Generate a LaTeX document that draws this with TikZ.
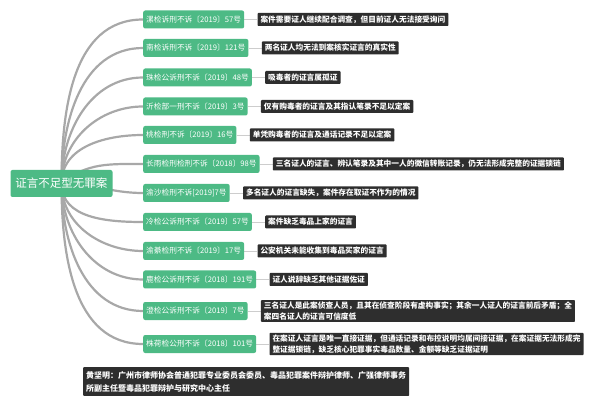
\documentclass[tikz,border=0pt]{standalone}
\usepackage{fontspec}
\setmainfont{Noto Sans CJK SC}
\usepackage{tikz}
\usetikzlibrary{positioning,backgrounds}
\definecolor{verde}{RGB}{77,186,133}
\definecolor{oscuro}{RGB}{46,46,46}
\definecolor{gris}{RGB}{168,168,168}
\definecolor{grisclaro}{RGB}{205,205,205}

\begin{document}
\begin{tikzpicture}[x=1pt, y=-1pt,
        raiz/.style={fill=verde, rounded corners=2pt, text=white, minimum height=27pt, inner xsep=5pt, font=\fontsize{11.5}{13}\selectfont},
        caso/.style={fill=verde, rounded corners=2pt, text=white, anchor=west, minimum height=18pt, inner xsep=3pt, font=\fontsize{7.7}{9}\selectfont},
        nota/.style={fill=oscuro, rounded corners=0.8pt, text=white, align=left, minimum height=13pt, inner xsep=3pt, inner ysep=2pt, font=\fontsize{7.7}{10.5}\selectfont\bfseries},
        rama/.style={draw=gris, line width=2.2pt},
        enlace/.style={draw=grisclaro, line width=0.8pt}
    ]
        \useasboundingbox (0,0) rectangle (600,406);
        % raiz
        \node (rt) [raiz] at (61.5,183.5) {证言不足型无罪案};
        % casos
        \node (c1)  [caso] at (143,19.5)  {漯检诉刑不诉〔2019〕57号};
        \node (c2)  [caso] at (143,48)    {南检诉刑不诉〔2019〕121号};
        \node (c3)  [caso] at (143,77.5)  {珠检公诉刑不诉〔2019〕48号};
        \node (c4)  [caso] at (143,106.5) {沂检部一刑不诉〔2019〕3号};
        \node (c5)  [caso] at (143,135)   {桃检刑不诉〔2019〕16号};
        \node (c6)  [caso] at (143,164)   {长雨检刑检刑不诉〔2018〕98号};
        \node (c7)  [caso] at (143,193)   {渝沙检刑不诉[2019]7号};
        \node (c8)  [caso] at (143,222)   {冷检公诉刑不诉〔2019〕57号};
        \node (c9)  [caso] at (143,251)   {渝綦检刑不诉〔2019〕17号};
        \node (c10) [caso] at (143,279.5) {鹿检公诉刑不诉〔2018〕191号};
        \node (c11) [caso] at (143,311)   {澄检公诉刑不诉〔2019〕7号};
        \node (c12) [caso] at (143,344)   {株荷检公刑不诉〔2018〕101号};
        % motivos
        \node (d1)  [nota, right=13pt of c1]  {案件需要证人继续配合调查，但目前证人无法接受询问};
        \node (d2)  [nota, right=13pt of c2]  {两名证人均无法到案核实证言的真实性};
        \node (d3)  [nota, right=13pt of c3]  {吸毒者的证言属孤证};
        \node (d4)  [nota, right=13pt of c4]  {仅有购毒者的证言及其指认笔录不足以定案};
        \node (d5)  [nota, right=13pt of c5]  {单凭购毒者的证言及通话记录不足以定案};
        \node (d6)  [nota, right=13pt of c6]  {三名证人的证言、辨认笔录及其中一人的微信转账记录，仍无法形成完整的证据锁链};
        \node (d7)  [nota, right=13pt of c7]  {多名证人的证言缺失，案件存在取证不作为的情况};
        \node (d8)  [nota, right=13pt of c8]  {案件缺乏毒品上家的证言};
        \node (d9)  [nota, right=13pt of c9]  {公安机关未能收集到毒品买家的证言};
        \node (d10) [nota, right=13pt of c10] {证人说辞缺乏其他证据佐证};
        \node (d11) [nota, right=13pt of c11] {三名证人是此案侦查人员，且其在侦查阶段有虚构事实；其余一人证人的证言前后矛盾；全\\案四名证人的证言可信度低};
        \node (d12) [nota, right=13pt of c12] {在案证人证言是唯一直接证据，但通话记录和布控说明均属间接证据，在案证据无法形成完\\整证据锁链，缺乏核心犯罪事实毒品数量、金额等缺乏证据证明};
        % autor
        \node (nb) [nota, anchor=north west, inner ysep=4pt, font=\fontsize{8}{13}\selectfont\bfseries] at (83,367)
            {黄坚明：广州市律师协会普通犯罪专业委员会委员、毒品犯罪案件辩护律师、广强律师事务\\所副主任暨毒品犯罪辩护与研究中心主任};
        \begin{scope}[on background layer]
            % ramas
            \draw[rama] (rt.center) to[out=90, in=180] (c1.west);
            \draw[rama] (rt.center) to[out=90, in=180] (c2.west);
            \draw[rama] (rt.center) to[out=90, in=180] (c3.west);
            \draw[rama] (rt.center) to[out=90, in=180] (c4.west);
            \draw[rama] (rt.center) to[out=90, in=180] (c5.west);
            \draw[rama] (rt.center) to[out=40, in=180] (c6.west);
            \draw[rama] (rt.center) to[out=0, in=180] (c7.west);
            \draw[rama] (rt.center) to[out=-90, in=180] (c8.west);
            \draw[rama] (rt.center) to[out=-90, in=180] (c9.west);
            \draw[rama] (rt.center) to[out=-90, in=180] (c10.west);
            \draw[rama] (rt.center) to[out=-90, in=180] (c11.west);
            \draw[rama] (rt.center) to[out=-90, in=180] (c12.west);
            % enlaces
            \draw[enlace] (c1) -- (d1);
            \draw[enlace] (c2) -- (d2);
            \draw[enlace] (c3) -- (d3);
            \draw[enlace] (c4) -- (d4);
            \draw[enlace] (c5) -- (d5);
            \draw[enlace] (c6) -- (d6);
            \draw[enlace] (c7) -- (d7);
            \draw[enlace] (c8) -- (d8);
            \draw[enlace] (c9) -- (d9);
            \draw[enlace] (c10) -- (d10);
            \draw[enlace] (c11) -- (d11);
            \draw[enlace] (c12) -- (d12);
        \end{scope}
    \end{tikzpicture}
\end{document}
